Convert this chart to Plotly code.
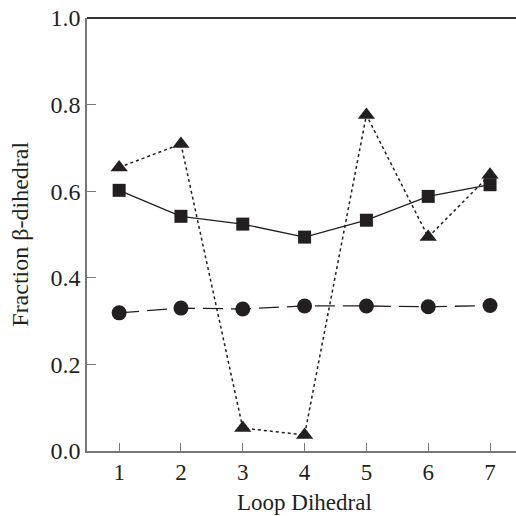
import plotly.graph_objects as go

loop_dihedral = [1, 2, 3, 4, 5, 6, 7]
squares = [0.602, 0.542, 0.524, 0.494, 0.533, 0.588, 0.615]
triangles = [0.655, 0.709, 0.053, 0.037, 0.776, 0.494, 0.638]
circles = [0.319, 0.330, 0.328, 0.335, 0.335, 0.333, 0.336]
x_ticks = [1, 2, 3, 4, 5, 6, 7]
y_ticks = [0.0, 0.2, 0.4, 0.6, 0.8, 1.0]
y_tick_text = ["0.0", "0.2", "0.4", "0.6", "0.8", "1.0"]
x_title = "Loop Dihedral"
y_title = "Fraction β-dihedral"

ink = "#231f20"
fig = go.Figure()
fig.add_trace(go.Scatter(x=loop_dihedral, y=circles, mode="lines+markers",
                         line=dict(color=ink, width=1.3, dash="20px,8px"),
                         marker=dict(symbol="circle", size=15, color=ink)))
fig.add_trace(go.Scatter(x=loop_dihedral, y=squares, mode="lines+markers",
                         line=dict(color=ink, width=1.3),
                         marker=dict(symbol="square", size=13, color=ink)))
fig.add_trace(go.Scatter(x=loop_dihedral, y=triangles, mode="lines+markers",
                         line=dict(color=ink, width=1.5, dash="dot"),
                         marker=dict(symbol="triangle-up", size=15, color=ink)))

font = dict(family="Liberation Serif, Times New Roman, serif", size=24, color="#231f20")
xfont = dict(family="Liberation Serif, Times New Roman, serif", size=23, color="#231f20")
fig.update_layout(
    width=516, height=516,
    margin=dict(l=87, r=0, t=18, b=65),
    plot_bgcolor="white", paper_bgcolor="white",
    showlegend=False,
    font=font,
    xaxis=dict(range=[0.48, 7.42], tickvals=x_ticks, ticks="inside", ticklen=8,
               tickcolor="#777", tickwidth=1.2, showline=True, linecolor="#777",
               linewidth=1.5, showgrid=False, zeroline=False, automargin=False,
               ticklabelstandoff=0, tickfont=xfont, ticklabeloverflow="allow"),
    yaxis=dict(range=[0, 1.0], tickvals=y_ticks, ticktext=y_tick_text, ticks="inside",
               ticklen=9, tickcolor="#777", tickwidth=1.2, showline=True,
               linecolor="#777", linewidth=1.5, showgrid=False, zeroline=False,
               automargin=False, tickfont=font, ticklabeloverflow="allow"),
    shapes=[dict(type="line", xref="paper", yref="paper", x0=0, x1=1, y0=1, y1=1,
                 line=dict(color="#333", width=2))],
    annotations=[
        dict(text=x_title, xref="paper", yref="paper", x=0.506, y=-0.118,
             xanchor="center", yanchor="middle", showarrow=False, font=xfont),
        dict(text=y_title, xref="paper", yref="paper", x=-0.158, y=0.5,
             xanchor="center", yanchor="middle", textangle=-90, showarrow=False,
             font=font),
    ],
)
fig.write_html("out.html", config={"displayModeBar": False},
               post_script="document.body.style.margin='0';")
